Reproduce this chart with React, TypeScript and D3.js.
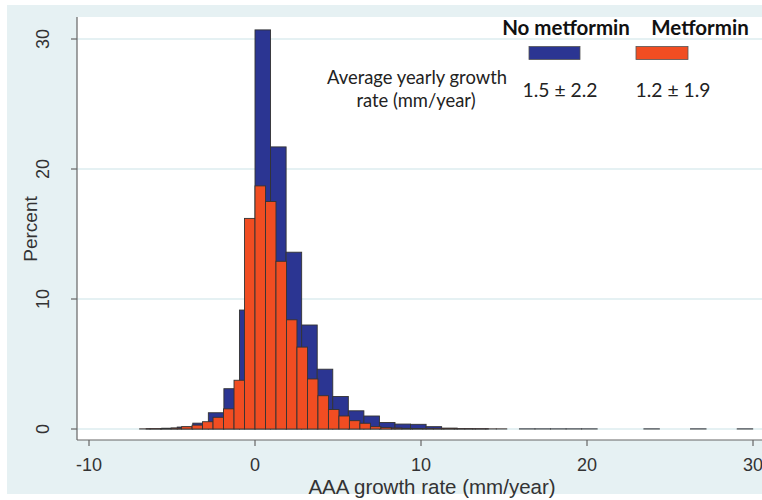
import React from 'react';
import * as d3 from 'd3';

// histogram bins: first bin index, bin width (mm/year), percent per bin
const noMetforminFirstBin = -7;
const noMetforminBinWidth = 0.937;
const noMetforminPct = [
  0.02, 0.06, 0.15, 0.45, 1.25, 3.1, 9.15, 30.7, 21.7, 13.6, 8.0, 4.6, 2.5,
  1.4, 1.0, 0.5, 0.38, 0.36, 0.18, 0.07, 0.03, 0.02, 0, 0, 0.01, 0.01, 0.01,
  0.01, 0.01, 0, 0, 0, 0.01, 0, 0, 0.01, 0, 0, 0.01,
];

const metforminFirstBin = -11;
const metforminBinWidth = 0.632;
const metforminPct = [
  0.01, 0.02, 0.04, 0.08, 0.18, 0.3, 0.56, 0.9, 1.55, 3.75, 16.2, 18.7, 17.5,
  12.9, 8.4, 6.3, 3.85, 2.56, 1.5, 1.0, 0.64, 0.44, 0.18, 0.12, 0.08, 0.05,
  0.04, 0.03, 0.02, 0.02, 0.01, 0.01, 0.01, 0.01, 0.01,
];

const xTicks = [-10, 0, 10, 20, 30];
const yTicks = [0, 10, 20, 30];

const legendNames = ['No metformin', 'Metformin'];
const legendStats = ['1.5 ± 2.2', '1.2 ± 1.9'];

const BLUE = '#2b3592';
const ORANGE = '#f14d22';
const BG = '#e6f1f3';
const axisFont = '"Liberation Sans", Arial, sans-serif';
const legendFont = 'Lato, "Open Sans", sans-serif';

const toBins = (first: number, width: number, vals: number[]) =>
  vals
    .map((v, i) => ({ x0: (first + i) * width, x1: (first + i + 1) * width, v }))
    .filter(d => d.v > 0);

export default function App() {
  const width = 762;
  const height = 500;
  const plot = { left: 77, top: 17, right: 762, bottom: 440 };

  const x = d3.scaleLinear().domain([-10, 30]).range([89, 753]);
  const y = d3.scaleLinear().domain([0, 30]).range([429, 39]);

  const blueBins = toBins(noMetforminFirstBin, noMetforminBinWidth, noMetforminPct);
  const orangeBins = toBins(metforminFirstBin, metforminBinWidth, metforminPct);

  const bar = (d: { x0: number; x1: number; v: number }, fill: string, i: number) => (
    <rect
      key={i}
      x={x(d.x0)}
      y={y(d.v)}
      width={x(d.x1) - x(d.x0)}
      height={y(0) - y(d.v)}
      fill={fill}
      stroke="#333"
      strokeWidth={0.9}
    />
  );

  return (
    <svg
      width={width}
      height={height}
      style={{ position: 'absolute', left: 0, top: 0, background: '#fff' }}
    >
      <rect x={7} y={5} width={width - 7} height={489} fill={BG} />
      <rect x={plot.left} y={plot.top} width={plot.right - plot.left} height={plot.bottom - plot.top} fill="#fff" />

      {/* gridlines */}
      {yTicks.map(t => (
        <line key={t} x1={plot.left} x2={plot.right} y1={y(t)} y2={y(t)} stroke="#dcecef" strokeWidth={1.5} />
      ))}

      {/* bars */}
      <g>{blueBins.map((d, i) => bar(d, BLUE, i))}</g>
      <g>{orangeBins.map((d, i) => bar(d, ORANGE, i))}</g>

      {/* axes */}
      <line x1={plot.left} x2={plot.left} y1={plot.top} y2={plot.bottom} stroke="#666" strokeWidth={1.2} />
      <line x1={plot.left} x2={plot.right} y1={plot.bottom} y2={plot.bottom} stroke="#666" strokeWidth={1.2} />
      {yTicks.map(t => (
        <g key={t}>
          <line x1={plot.left - 6} x2={plot.left} y1={y(t)} y2={y(t)} stroke="#666" strokeWidth={1.2} />
          <text
            transform={`translate(49,${y(t)}) rotate(-90)`}
            textAnchor="middle"
            fontFamily={axisFont}
            fontSize={18}
            fill="#333"
          >
            {t}
          </text>
        </g>
      ))}
      {xTicks.map(t => (
        <g key={t}>
          <line x1={x(t)} x2={x(t)} y1={plot.bottom} y2={plot.bottom + 6} stroke="#666" strokeWidth={1.2} />
          <text x={x(t)} y={471} textAnchor="middle" fontFamily={axisFont} fontSize={18} fill="#333">
            {t}
          </text>
        </g>
      ))}
      <text x={432} y={494} textAnchor="middle" fontFamily={axisFont} fontSize={20.5} fill="#333">
        AAA growth rate (mm/year)
      </text>
      <text
        transform="translate(37,229) rotate(-90)"
        textAnchor="middle"
        fontFamily={axisFont}
        fontSize={19}
        fill="#333"
      >
        Percent
      </text>

      {/* legend */}
      <text x={566} y={35} textAnchor="middle" fontFamily={legendFont} fontWeight="bold" fontSize={20.5} fill="#111">
        {legendNames[0]}
      </text>
      <text x={700} y={35} textAnchor="middle" fontFamily={legendFont} fontWeight="bold" fontSize={20.5} fill="#111">
        {legendNames[1]}
      </text>
      <rect x={529} y={46.5} width={51} height={13} fill={BLUE} stroke="#555" strokeWidth={0.8} />
      <rect x={636} y={46.5} width={52} height={13} fill={ORANGE} stroke="#555" strokeWidth={0.8} />
      <text textAnchor="middle" fontFamily={legendFont} fontSize={18.4} fill="#222">
        <tspan x={417} y={84}>Average yearly growth</tspan>
        <tspan x={416} y={107}>rate (mm/year)</tspan>
      </text>
      <text x={560} y={97} textAnchor="middle" fontFamily={legendFont} fontSize={19.3} fill="#222">
        {legendStats[0]}
      </text>
      <text x={673} y={97} textAnchor="middle" fontFamily={legendFont} fontSize={19.3} fill="#222">
        {legendStats[1]}
      </text>
    </svg>
  );
}
